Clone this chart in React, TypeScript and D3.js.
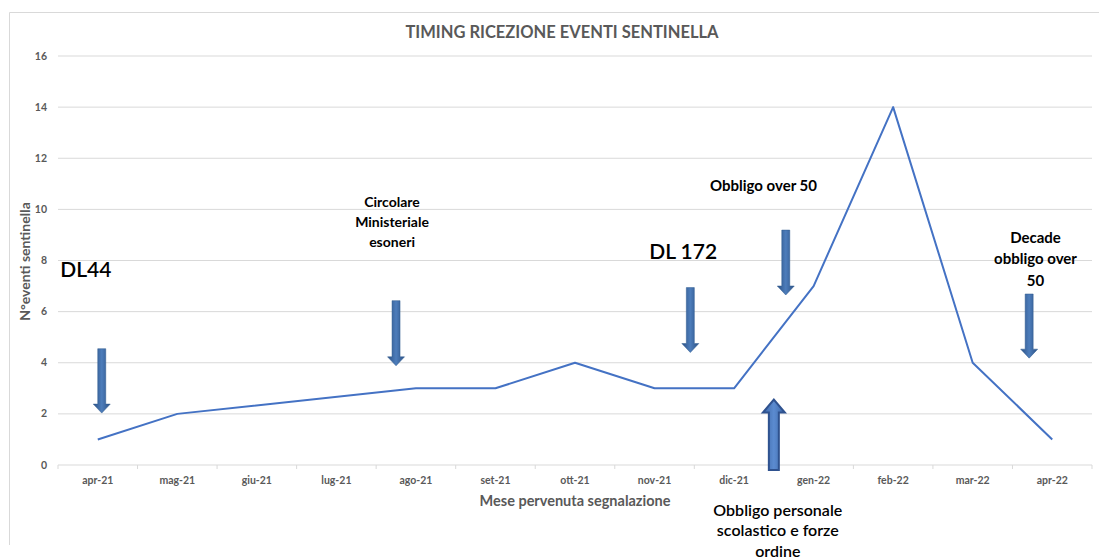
import * as d3 from 'd3';
import React from 'react';

const months = ['apr-21', 'mag-21', 'giu-21', 'lug-21', 'ago-21', 'set-21', 'ott-21', 'nov-21', 'dic-21', 'gen-22', 'feb-22', 'mar-22', 'apr-22'];
// giu-21 e lug-21 vuoti: la linea li scavalca
const eventi: Array<number | null> = [1, 2, null, null, 3, 3, 4, 3, 3, 7, 14, 4, 1];
const yTicks = [0, 2, 4, 6, 8, 10, 12, 14, 16];

const title = 'TIMING RICEZIONE EVENTI SENTINELLA';
const xTitle = 'Mese pervenuta segnalazione';
const yTitle = 'N°eventi sentinella';

// frecce: mese, spostamento in frazione di mese, valore di partenza e di punta
const arrows = [
  { at: 'apr-21', off: 0.05, from: 4.55, to: 2.03, up: false },
  { at: 'ago-21', off: -0.25, from: 6.43, to: 3.88, up: false },
  { at: 'nov-21', off: 0.45, from: 6.94, to: 4.4, up: false },
  { at: 'dic-21', off: 0.65, from: 9.19, to: 6.65, up: false },
  { at: 'mar-22', off: 0.71, from: 6.69, to: 4.18, up: false },
  { at: 'dic-21', off: 0.5, from: -0.2, to: 2.56, up: true },
];

const notes = [
  { at: 'apr-21', off: -0.15, v: 7.36, lines: ['DL44'], size: 21, weight: 600, gap: 0 },
  { at: 'nov-21', off: 0.36, v: 8.06, lines: ['DL 172'], size: 21, weight: 600, gap: 0 },
  { at: 'dic-21', off: 0.37, v: 10.72, lines: ['Obbligo over 50'], size: 15, weight: 700, gap: 0 },
  { at: 'ago-21', off: -0.3, v: 10.09, lines: ['Circolare', 'Ministeriale', 'esoneri'], size: 14, weight: 700, gap: 20 },
  { at: 'mar-22', off: 0.79, v: 8.7, lines: ['Decade', 'obbligo over', '50'], size: 15, weight: 700, gap: 21.5 },
  { at: 'dic-21', off: 0.55, v: -1.99, lines: ['Obbligo personale', 'scolastico e forze', 'ordine'], size: 16, weight: 600, gap: 20.5 },
];

const font = 'Lato, "Open Sans", sans-serif';
const gray = '#595959';

export default function App() {
  const width = 1099;
  const height = 560;

  const x = d3.scaleBand().domain(months).range([58, 1092]).paddingInner(0).paddingOuter(0);
  const y = d3.scaleLinear().domain([0, 16]).range([465, 56]);
  const bw = x.bandwidth();
  const cx = (m: string, off = 0) => (x(m) as number) + bw / 2 + off * bw;

  const pts = months
    .map((m, i) => ({ m, v: eventi[i] }))
    .filter(d => d.v !== null) as Array<{ m: string; v: number }>;
  const line = d3.line<{ m: string; v: number }>()
    .x(d => cx(d.m))
    .y(d => y(d.v));

  const arrowPath = (a: typeof arrows[number]) => {
    const ax = cx(a.at, a.off);
    const y0 = y(a.from);
    const y1 = y(a.to);
    const sw = a.up ? 5 : 4;
    const hw = a.up ? 11 : 8.5;
    const hl = a.up ? 13 : 9;
    const dir = y1 > y0 ? 1 : -1;
    const yb = y1 - dir * hl;
    return `M${ax - sw},${y0} L${ax + sw},${y0} L${ax + sw},${yb} L${ax + hw},${yb} L${ax},${y1} L${ax - hw},${yb} L${ax - sw},${yb} Z`;
  };

  return (
    <svg width={width} height={height} style={{ position: 'absolute', left: 0, top: 0, background: '#fff' }}>
      <defs>
        <linearGradient id="arr" x1="0" x2="1" y1="0" y2="0">
          <stop offset="0" stopColor="#2c5185" />
          <stop offset="0.5" stopColor="#4d7dbb" />
          <stop offset="1" stopColor="#2c5185" />
        </linearGradient>
        <linearGradient id="arrUp" x1="0" x2="1" y1="0" y2="0">
          <stop offset="0" stopColor="#3c66a6" />
          <stop offset="0.5" stopColor="#5b8bd0" />
          <stop offset="1" stopColor="#3c66a6" />
        </linearGradient>
      </defs>

      {/* cornice */}
      <line x1={9.5} x2={9.5} y1={12.5} y2={545} stroke="#d9d9d9" />
      <line x1={9.5} x2={1099} y1={12.5} y2={12.5} stroke="#d9d9d9" />

      <text x={562} y={38} textAnchor="middle" fontFamily={font} fontWeight={700} fontSize={16.5} fill={gray}>{title}</text>

      {/* griglia e asse y */}
      {yTicks.map(t => (
        <g key={t}>
          {t > 0 && <line x1={58} x2={1092} y1={y(t)} y2={y(t)} stroke="#d9d9d9" />}
          <text x={47} y={y(t) + 3.5} textAnchor="end" fontFamily={font} fontWeight={700} fontSize={10.5} fill={gray}>{t}</text>
        </g>
      ))}

      {/* asse x */}
      <line x1={58} x2={1092} y1={y(0)} y2={y(0)} stroke="#d9d9d9" />
      {months.map(m => (
        <g key={m}>
          <line x1={x(m) as number} x2={x(m) as number} y1={y(0)} y2={y(0) + 4} stroke="#d9d9d9" />
          <text x={cx(m)} y={484} textAnchor="middle" fontFamily={font} fontWeight={700} fontSize={10.5} fill={gray}>{m}</text>
        </g>
      ))}
      <line x1={1092} x2={1092} y1={y(0)} y2={y(0) + 4} stroke="#d9d9d9" />

      <text x={575} y={505.5} textAnchor="middle" fontFamily={font} fontWeight={700} fontSize={14.5} fill={gray}>{xTitle}</text>
      <text transform="translate(30,261.5) rotate(-90)" textAnchor="middle" fontFamily={font} fontWeight={700} fontSize={14} fill={gray}>{yTitle}</text>

      <path d={line(pts) || ''} fill="none" stroke="#4472c4" strokeWidth={2} strokeLinejoin="round" />

      {arrows.map((a, i) => (
        <path key={i} d={arrowPath(a)}
          fill={a.up ? 'url(#arrUp)' : 'url(#arr)'}
          stroke={a.up ? '#2f528f' : '#2f5a8f'}
          strokeWidth={a.up ? 2 : 0.5} />
      ))}

      {notes.map((n, i) => (
        <text key={i} textAnchor="middle" fontFamily={font} fontWeight={n.weight} fontSize={n.size} fill="#000">
          {n.lines.map((l, j) => (
            <tspan key={j} x={cx(n.at, n.off)} y={y(n.v) + j * n.gap}>{l}</tspan>
          ))}
        </text>
      ))}
    </svg>
  );
}
